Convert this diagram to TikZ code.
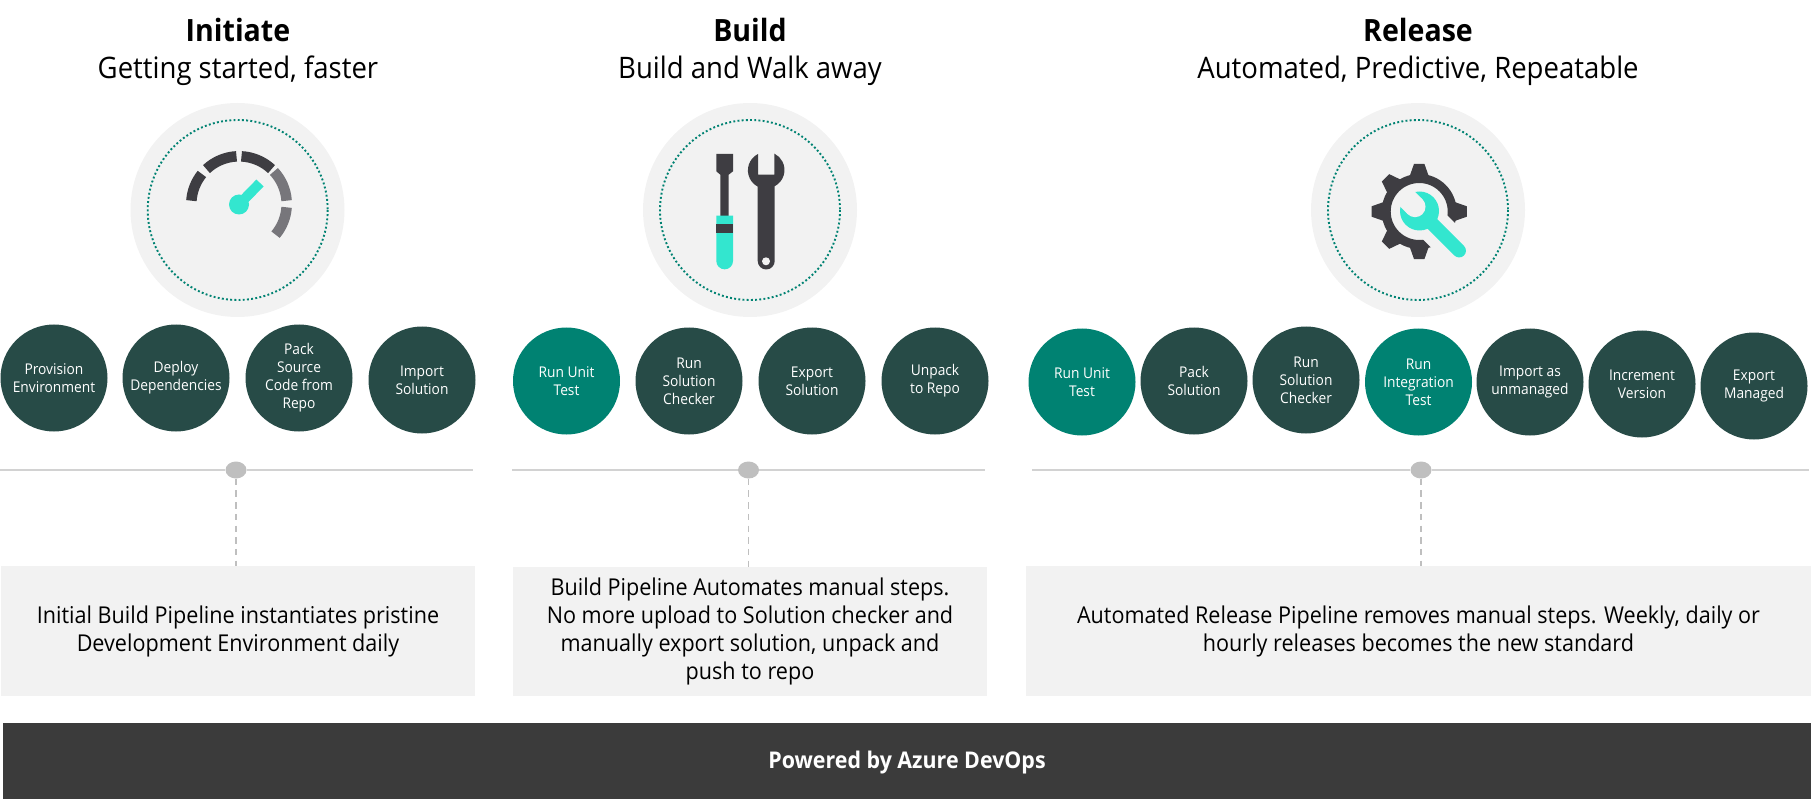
\documentclass[tikz,border=0pt]{standalone}
\usepackage{fontspec}
\setmainfont[FakeStretch=0.93]{Open Sans}
\usetikzlibrary{backgrounds,shapes.geometric}
\definecolor{deep}{HTML}{274B47}
\definecolor{teal}{HTML}{008272}
\definecolor{pale}{HTML}{F2F2F2}
\definecolor{aqua}{HTML}{33E6CF}
\definecolor{iconA}{HTML}{3E3D42}
\definecolor{iconB}{HTML}{77767B}
\definecolor{banner}{HTML}{3B3B3B}
\definecolor{rail}{HTML}{D2D2D2}
\definecolor{knob}{HTML}{BFBFBF}
\tikzset{
  x=1pt,y=-1pt,
  stepdark/.style={circle,fill=deep,text=white,minimum size=107pt,inner sep=0pt,align=center,
    font=\fontsize{14.8}{18}\selectfont},
  stepteal/.style={stepdark,fill=teal},
  halo/.style={circle,fill=pale,minimum size=214pt,inner sep=0pt},
  ringdots/.style={draw=teal,line width=1.9pt,dash pattern=on 1.9pt off 2.3pt},
  notebox/.style={fill=pale,inner sep=0pt,align=center,minimum height=130pt,text=black,
    font=\fontsize{23.2}{28}\selectfont,execute at begin node={\rule{0pt}{21.5pt}}},
  headline/.style={anchor=base,font=\fontsize{30.7}{34}\selectfont\bfseries},
  subline/.style={anchor=base,font=\fontsize{29.6}{32}\selectfont},
  railline/.style={draw=rail,line width=1.6pt},
  knobdot/.style={ellipse,fill=knob,minimum width=21pt,minimum height=17pt,inner sep=0pt},
  leader/.style={draw=knob,line width=1.4pt,dash pattern=on 6.5pt off 5.2pt},
  gaugearc/.style={line width=10.5pt},
}
\begin{document}
\begin{tikzpicture}
\useasboundingbox (0,0) rectangle (1811,799);

% titles
\node[headline] (t1) at (238,42) {Initiate};
\node[subline]  (s1) at (238,79) {Getting started, faster};
\node[headline] (t2) at (750,42) {Build};
\node[subline]  (s2) at (750,79) {Build and Walk away};
\node[headline] (t3) at (1418,42) {Release};
\node[subline]  (s3) at (1418,79) {Automated, Predictive, Repeatable};

% icon discs
\node[halo] (h1) at (237.5,210) {};
\node[halo] (h2) at (750,210) {};
\node[halo] (h3) at (1418,210) {};
\draw[ringdots] (237.7,210) circle (90);
\draw[ringdots] (750,210) circle (90);
\draw[ringdots] (1418,210) circle (90);

% gauge
\begin{scope}[shift={(239,204)}]
  \draw[gaugearc,iconA] (-176:47.7) arc (-176:-141:47.7);
  \draw[gaugearc,iconA] (-133:47.7) arc (-133:-93:47.7);
  \draw[gaugearc,iconA] (-87:47.7) arc (-87:-47:47.7);
  \draw[gaugearc,iconB] (-43:47.7) arc (-43:-4:47.7);
  \draw[gaugearc,iconB] (4:47.7) arc (4:40:47.7);
  \fill[aqua] (0,0.5) circle (10);
  \draw[aqua,line width=10pt] (0,0.5) -- (21,-21);
\end{scope}

% screwdriver
\fill[iconA] (716.3,154) -- (733,154) -- (733,171.3) -- (728.7,174.7) -- (728.7,216) -- (720.3,216) -- (720.3,174.7) -- (716.3,171.3) -- cycle;
\fill[aqua] (716.3,215.7) -- (733,215.7) -- (733,261) arc (0:180:8.35) -- cycle;
\fill[iconA] (716.3,224) rectangle (733,232.7);

% wrench
\fill[iconA] (758,154) arc (-116.6:-242.3:18.3) -- (757.7,261) arc (180:0:8.5) -- (774.7,186.2) arc (62.3:-63:18.3) -- (774.3,154) -- (774.3,174.7) -- (758,174.7) -- cycle;
\fill[pale] (766,261.3) circle (4);

% gear with spanner
\begin{scope}[shift={(1419.2,211.5)}]
  \draw[iconA,line width=9pt] (0,0) circle (33);
  \foreach \a in {0,90,135,180,225,270,315}{
    \fill[iconA,rotate=\a] (34,-10) -- (47.6,-5.2) -- (47.6,5.2) -- (34,10) -- cycle;
  }
  \draw[pale,line width=34pt] (0,0) -- (36,36);
  \fill[aqua] (0.3,-0.5) circle (19.5);
  \draw[aqua,line width=13.5pt,line cap=round] (0.3,-0.5) -- (40,39.2);
  \fill[pale] (-4.2,-4.8) circle (10.5);
  \fill[pale] (3.2,-12.2) -- (-8.1,-23.5) -- (-22.9,-8.7) -- (-11.6,2.6) -- cycle;
\end{scope}

% steps: initiate
\node[stepdark] (a1) at (54,378) {Provision\\Environment};
\node[stepdark] (a2) at (176,378) {Deploy\\Dependencies};
\node[stepdark] (a3) at (299,378) {Pack\\Source\\Code from\\Repo};
\node[stepdark] (a4) at (422,380) {Import\\Solution};

% steps: build
\node[stepteal] (b1) at (566.5,381) {Run Unit\\Test};
\node[stepdark] (b2) at (689,381) {Run\\Solution\\Checker};
\node[stepdark] (b3) at (812,381) {Export\\Solution};
\node[stepdark] (b4) at (935,381) {Unpack\\to Repo};

% steps: release
\node[stepteal] (c1) at (1082,382) {Run Unit\\Test};
\node[stepdark] (c2) at (1194,381) {Pack\\Solution};
\node[stepdark] (c3) at (1306,380) {Run\\Solution\\Checker};
\node[stepteal] (c4) at (1418.5,382) {Run\\Integration\\Test};
\node[stepdark] (c5) at (1530,382) {Import as\\unmanaged};
\node[stepdark] (c6) at (1642,384) {Increment\\Version};
\node[stepdark] (c7) at (1754,386) {Export\\Managed};

% notes
\node[notebox,minimum width=474pt] (n1) at (238,631) {Initial Build Pipeline instantiates pristine\\Development Environment daily};
\node[notebox,minimum width=474pt,minimum height=129pt] (n2) at (750,631.5) {Build Pipeline Automates manual steps.\\No more upload to Solution checker and\\manually export solution, unpack and\\push to repo};
\node[notebox,minimum width=785pt] (n3) at (1418.5,631) {Automated Release Pipeline removes manual steps. Weekly, daily or\\hourly releases becomes the new standard};

% banner
\node[fill=banner,text=white,minimum width=1808pt,minimum height=76pt,inner sep=0pt,
  font=\fontsize{23}{26}\selectfont\bfseries,execute at begin node={\rule{0pt}{21.5pt}}] (bar) at (907,761) {Powered by Azure DevOps};

% rails
\node[knobdot] (k1) at (236,470) {};
\node[knobdot] (k2) at (748.5,470) {};
\node[knobdot] (k3) at (1421,470) {};
\coordinate (r1a) at (0,470);    \coordinate (r1b) at (473,470);
\coordinate (r2a) at (512,470);  \coordinate (r2b) at (985,470);
\coordinate (r3a) at (1032,470); \coordinate (r3b) at (1809,470);
\begin{pgfonlayer}{background}
  \draw[railline] (r1a) -- (k1) -- (r1b);
  \draw[railline] (r2a) -- (k2) -- (r2b);
  \draw[railline] (r3a) -- (k3) -- (r3b);
\end{pgfonlayer}
\draw[leader] (k1.south) -- (k1.south |- n1.north);
\draw[leader] (k2.south) -- (k2.south |- n2.north);
\draw[leader] (k3.south) -- (k3.south |- n3.north);
\end{tikzpicture}
\end{document}
